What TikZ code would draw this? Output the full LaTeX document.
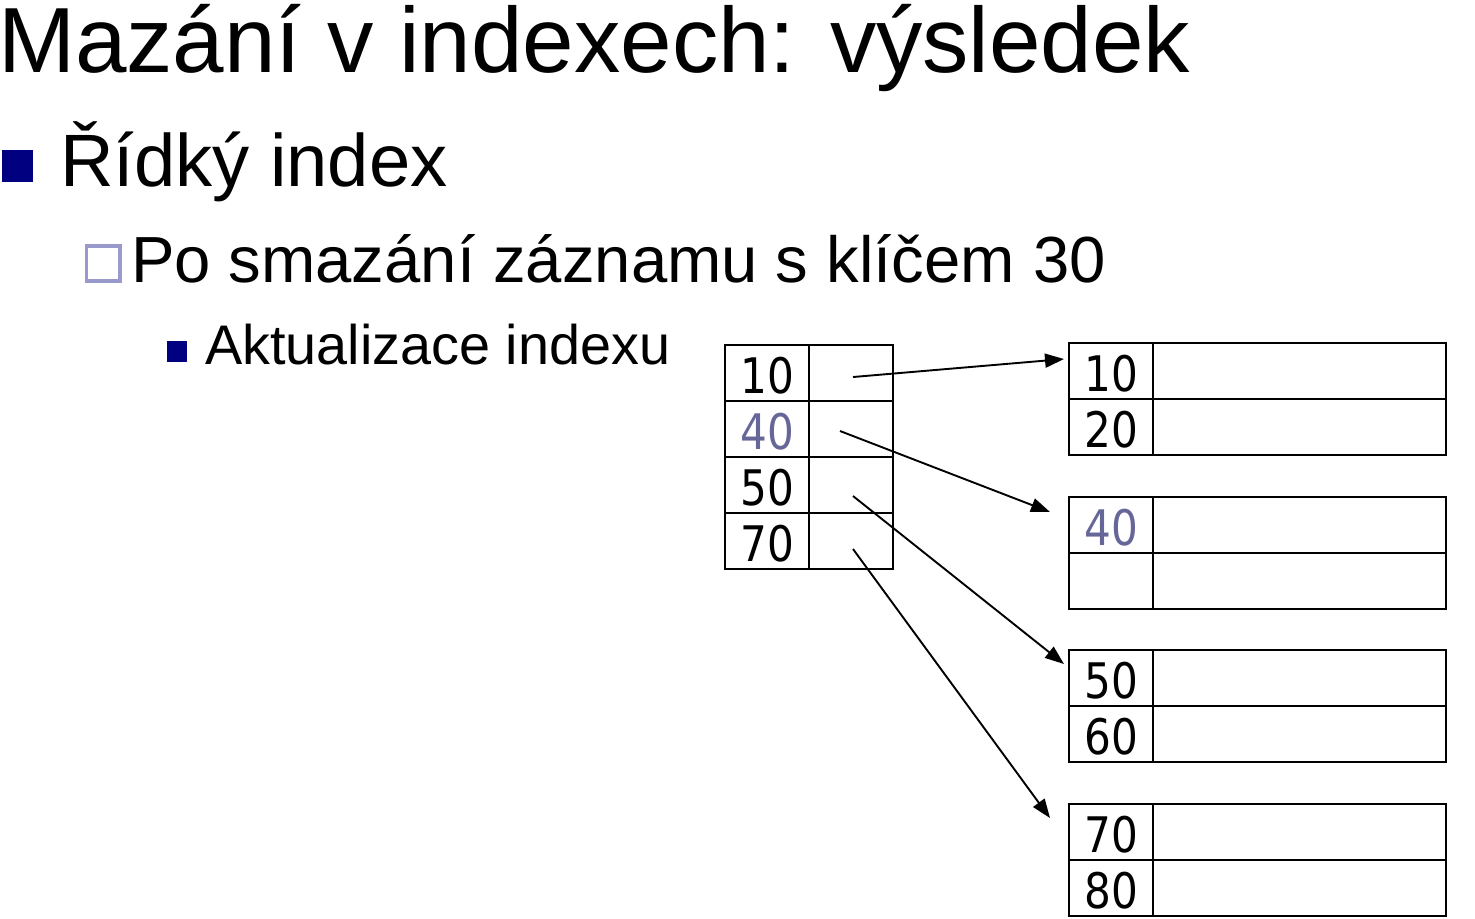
\documentclass[tikz,border=0pt]{standalone}
\usepackage{fontspec}
\setmainfont{Liberation Sans}
\newfontfamily\cellfont[FakeStretch=0.86]{DejaVu Sans}
\usetikzlibrary{arrows.meta,calc}
\definecolor{bulletnavy}{RGB}{0,0,128}
\definecolor{bulletlav}{RGB}{153,153,204}
\definecolor{keygray}{RGB}{102,102,153}
\begin{document}
\begin{tikzpicture}[x=0.5pt,y=-0.5pt,
  txt/.style={anchor=base west, inner sep=0, outer sep=0},
  cell/.style={draw, line width=1pt, anchor=north west, inner sep=0, outer sep=0,
    minimum height=28pt, text height=20.4pt, text depth=0pt,
    font=\cellfont\fontsize{24.5}{24.5}\selectfont},
  keycell/.style={cell, minimum width=42pt},
  ptrcell/.style={cell, minimum width=42pt},
  datacell/.style={cell, minimum width=146.5pt},
  ptr/.style={line width=0.95pt, -{Triangle[length=9.5pt,width=7pt]}}]
\useasboundingbox (0,0) rectangle (1475,918);

% headings
\node[txt, font=\fontsize{46.3}{50}\selectfont] (title) at (-2,72) {Mazání v indexech: výsledek};
\fill[bulletnavy] (2,150) rectangle (33,182);
\node[txt, font=\fontsize{37.1}{40}\selectfont] (lvl1) at (60,186) {Řídký index};
\draw[bulletlav, line width=1.6pt] (86.5,246) rectangle (120,281);
\node[txt, font=\fontsize{32.6}{36}\selectfont] (lvl2) at (131,282) {Po smazání záznamu s klíčem 30};
\fill[bulletnavy] (167,341) rectangle (187,362);
\node[txt, font=\fontsize{27.9}{32}\selectfont] (lvl3) at (205,364) {Aktualizace indexu};

% sparse index
\node[keycell] (i1k) at (725,345) {10};
\node[ptrcell] (i1p) at (809,345) {};
\node[keycell, text=keygray] (i2k) at (725,401) {40};
\node[ptrcell] (i2p) at (809,401) {};
\node[keycell] (i3k) at (725,457) {50};
\node[ptrcell] (i3p) at (809,457) {};
\node[keycell] (i4k) at (725,513) {70};
\node[ptrcell] (i4p) at (809,513) {};

% data blocks
\node[keycell] (b1k1) at (1069,343) {10};
\node[datacell] (b1d1) at (1153,343) {};
\node[keycell] (b1k2) at (1069,399) {20};
\node[datacell] (b1d2) at (1153,399) {};

\node[keycell, text=keygray] (b2k1) at (1069,497) {40};
\node[datacell] (b2d1) at (1153,497) {};
\node[keycell] (b2k2) at (1069,553) {};
\node[datacell] (b2d2) at (1153,553) {};

\node[keycell] (b3k1) at (1069,650) {50};
\node[datacell] (b3d1) at (1153,650) {};
\node[keycell] (b3k2) at (1069,706) {60};
\node[datacell] (b3d2) at (1153,706) {};

\node[keycell] (b4k1) at (1069,804) {70};
\node[datacell] (b4d1) at (1153,804) {};
\node[keycell] (b4k2) at (1069,860) {80};
\node[datacell] (b4d2) at (1153,860) {};

% pointers from index entries to blocks
\coordinate (s1) at ($(i1p.center)+(2,4)$);
\coordinate (s2) at ($(i2p.center)+(-11,2)$);
\coordinate (s3) at ($(i3p.center)+(2,11)$);
\coordinate (s4) at ($(i4p.center)+(2,8)$);
\coordinate (t1) at ($(b1k1.west)+(-5,-12)$);
\coordinate (t2) at ($(b2k1.north west)+(-19,15)$);
\coordinate (t3) at ($(b3k1.west)+(-5,-14)$);
\coordinate (t4) at ($(b4k1.north west)+(-19,14)$);
\draw[ptr] (s1) -- (t1);
\draw[ptr] (s2) -- (t2);
\draw[ptr] (s3) -- (t3);
\draw[ptr] (s4) -- (t4);
\end{tikzpicture}
\end{document}
